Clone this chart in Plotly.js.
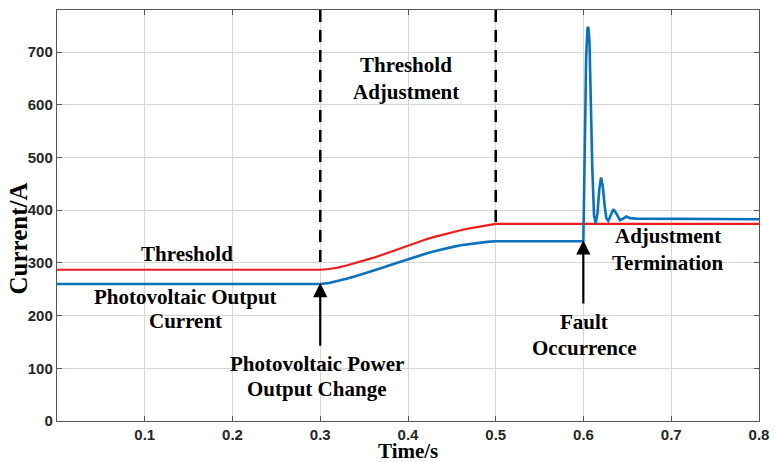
<!DOCTYPE html>
<html>
<head>
<meta charset="utf-8">
<script src="https://cdn.plot.ly/plotly-3.0.1.min.js"></script>
<style>html,body{margin:0;padding:0;background:#fff;}#chart{width:779px;height:462px;}</style>
</head>
<body>
<div id="chart"></div>
<script>
// Threshold (red)
const thrTime = [0, 0.3, 0.31, 0.32, 0.33, 0.34, 0.35, 0.36, 0.37, 0.38, 0.39, 0.4,
  0.41, 0.42, 0.43, 0.44, 0.45, 0.46, 0.47, 0.48, 0.49, 0.5, 0.8];
const thrVal  = [287, 287, 288.5, 291, 295, 299.5, 304, 309.5, 315, 321, 327, 333,
  339, 344.5, 349.5, 354, 358, 362, 365.5, 368.5, 371.5, 374, 374];
// Photovoltaic output current (blue)
const pvTime = [0, 0.3, 0.31, 0.32, 0.33, 0.34, 0.35, 0.36, 0.37, 0.38, 0.39, 0.4,
  0.41, 0.42, 0.43, 0.44, 0.45, 0.46, 0.47, 0.48, 0.49, 0.5, 0.5998,
  0.6015, 0.603, 0.6045, 0.6055, 0.6068, 0.608, 0.610, 0.612, 0.6139,
  0.616, 0.618, 0.620, 0.622, 0.624, 0.626, 0.6283, 0.631, 0.634, 0.637,
  0.6416, 0.645, 0.649, 0.653, 0.66, 0.8];
const pvVal = [260, 260, 262, 265.5, 270, 274.5, 279.5, 285, 290.5, 296, 301.5, 307,
  312.5, 317.5, 322, 326.5, 330, 333.5, 336, 338.5, 340, 341, 341,
  520, 690, 745, 748, 720, 620, 480, 390, 375,
  395, 440, 462, 445, 410, 385, 380, 392, 402, 395,
  381, 384, 388, 385, 384, 383];
const xTicks = [0.1, 0.2, 0.3, 0.4, 0.5, 0.6, 0.7, 0.8];
const yTicks = [0, 100, 200, 300, 400, 500, 600, 700];

const serif = {family: 'Liberation Serif, Times New Roman, serif', size: 21, color: '#000', weight: 'bold'};
function lab(text, x, y) {
  return {text: text, x: x, y: y, xref: 'x', yref: 'y', showarrow: false, font: serif, xanchor: 'center', yanchor: 'middle'};
}
function arrow(x, yTail, yHead) {
  return {x: x, y: yHead, ax: x, ay: yTail, xref: 'x', yref: 'y', axref: 'x', ayref: 'y',
    text: '', showarrow: true, arrowhead: 2, arrowsize: 1.3, arrowwidth: 2.2, arrowcolor: '#000'};
}

const traces = [
  {x: thrTime, y: thrVal, mode: 'lines', line: {color: '#ee1c1c', width: 2.2}, hoverinfo: 'skip'},
  {x: pvTime, y: pvVal, mode: 'lines', line: {color: '#0a72bd', width: 2.6}, hoverinfo: 'skip'}
];

const tickFont = {family: 'Liberation Sans, Arial, sans-serif', size: 15, color: '#262626', weight: 'bold'};
const layout = {
  width: 779, height: 462,
  margin: {l: 57, r: 20, t: 10, b: 41},
  paper_bgcolor: '#fff', plot_bgcolor: '#fff',
  showlegend: false,
  xaxis: {range: [0, 0.8], tickvals: xTicks, ticktext: xTicks.map(v => v.toFixed(1)),
    showgrid: true, gridcolor: '#d6d6d6', gridwidth: 1, zeroline: false,
    showline: true, linecolor: '#555', linewidth: 1.2, mirror: 'ticks',
    ticks: 'inside', ticklen: 5, tickcolor: '#555', tickfont: tickFont},
  yaxis: {range: [0, 780], tickvals: yTicks,
    showgrid: true, gridcolor: '#d6d6d6', gridwidth: 1, zeroline: false,
    showline: true, linecolor: '#555', linewidth: 1.2, mirror: 'ticks',
    ticks: 'inside', ticklen: 5, tickcolor: '#555', tickfont: tickFont},
  shapes: [
    {type: 'line', xref: 'x', yref: 'paper', x0: 0.3, x1: 0.3, y0: 1, y1: 0.368, line: {color: '#000', width: 2.6, dash: '12px,8px'}},
    {type: 'line', xref: 'x', yref: 'paper', x0: 0.5, x1: 0.5, y0: 1, y1: 0.479, line: {color: '#000', width: 2.6, dash: '12px,8px'}}
  ],
  annotations: [
    lab('Threshold', 0.148, 317),
    lab('Photovoltaic Output', 0.146, 235),
    lab('Current', 0.146, 189),
    lab('Photovoltaic Power', 0.296, 108),
    lab('Output Change', 0.296, 61),
    lab('Fault', 0.6006, 188),
    lab('Occurrence', 0.6006, 138),
    lab('Adjustment', 0.696, 351),
    lab('Termination', 0.696, 300),
    lab('Threshold', 0.398, 675),
    lab('Adjustment', 0.398, 624),
    arrow(0.3, 140, 262),
    arrow(0.5998, 220, 343),
    {text: 'Current/A', xref: 'paper', yref: 'paper', x: -0.055, y: 0.445, xanchor: 'center', yanchor: 'middle',
     textangle: -90, showarrow: false, font: {family: 'Liberation Serif, serif', size: 25, color: '#000', weight: 'bold'}},
    {text: 'Time/s', xref: 'paper', yref: 'paper', x: 0.5, y: -0.073, xanchor: 'center', yanchor: 'middle',
     showarrow: false, font: {family: 'Liberation Serif, serif', size: 21, color: '#000', weight: 'bold'}}
  ]
};
Plotly.newPlot('chart', traces, layout, {staticPlot: true, displayModeBar: false});
</script>
</body>
</html>
